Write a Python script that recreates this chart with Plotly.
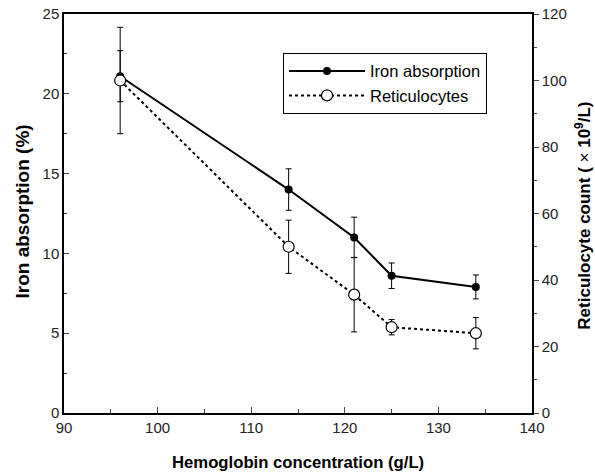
import plotly.graph_objects as go

hemoglobin = [96, 114, 121, 125, 134]
iron_absorption = [21.1, 14.0, 11.0, 8.6, 7.9]
iron_sd = [1.6, 1.3, 1.27, 0.8, 0.75]
reticulocytes = [100, 50, 35.6, 25.8, 24.0]
retic_sd = [16, 8, 11.2, 2.3, 4.7]

x_ticks = [90, 100, 110, 120, 130, 140]
y_ticks = [0, 5, 10, 15, 20, 25]
y2_ticks = [0, 20, 40, 60, 80, 100, 120]

x_title = "<b>Hemoglobin concentration (g/L)</b>"
y_title = "<b>Iron absorption (%)</b>"
y2_title = "<b>Reticulocyte count (</b> × <b>10<sup>9</sup>/L)</b>"

FONT = "Liberation Sans, Arial, Helvetica, sans-serif"
TICKCOLOR = "#222222"

fig = go.Figure()
fig.add_trace(go.Scatter(
    x=hemoglobin, y=reticulocytes, yaxis="y2", name="Reticulocytes",
    mode="lines+markers",
    line=dict(color="black", width=2, dash="dot"),
    marker=dict(symbol="circle", size=11, color="white", line=dict(color="black", width=1.2)),
    error_y=dict(type="data", array=retic_sd, visible=True, color="black", thickness=1, width=3),
))
fig.add_trace(go.Scatter(
    x=hemoglobin, y=iron_absorption, yaxis="y", name="Iron absorption",
    mode="lines+markers",
    line=dict(color="black", width=2),
    marker=dict(symbol="circle", size=8, color="black"),
    error_y=dict(type="data", array=iron_sd, visible=True, color="black", thickness=1, width=3),
))

fig.update_layout(
    width=595, height=474,
    margin=dict(l=64, r=63, t=14, b=61),
    paper_bgcolor="white", plot_bgcolor="white",
    font=dict(family=FONT, size=15, color=TICKCOLOR),
    showlegend=True,
    legend=dict(
        x=0.468, y=0.903, xanchor="left", yanchor="top",
        bordercolor="black", borderwidth=1, bgcolor="white",
        font=dict(size=16.5, color="black"), traceorder="reversed",
        tracegroupgap=0, itemwidth=76,
    ),
    xaxis=dict(
        range=[90, 140], tickvals=x_ticks, ticks="inside", ticklen=6,
        showline=True, linecolor="black", linewidth=1.5, mirror=True,
        showgrid=False, zeroline=False, automargin=False,
        minor=dict(dtick=5, tick0=90, ticks="inside", ticklen=4, showgrid=False),
        tickfont=dict(size=15, color=TICKCOLOR),
    ),
    yaxis=dict(
        range=[0, 25], tickvals=y_ticks, ticks="inside", ticklen=5,
        showline=True, linecolor="black", linewidth=1.5, mirror=True,
        showgrid=False, zeroline=False, automargin=False,
        minor=dict(dtick=2.5, tick0=0, ticks="inside", ticklen=3, showgrid=False),
        tickfont=dict(size=15, color=TICKCOLOR),
    ),
    yaxis2=dict(
        range=[0, 120], tickvals=y2_ticks, ticks="outside", ticklen=5,
        overlaying="y", side="right",
        showline=True, linecolor="black", linewidth=1.5,
        showgrid=False, zeroline=False, automargin=False,
        minor=dict(dtick=10, tick0=0, ticks="outside", ticklen=3, showgrid=False),
        tickfont=dict(size=15, color=TICKCOLOR),
    ),
    annotations=[
        dict(text=x_title, xref="paper", yref="paper", x=0.5, y=-0.123,
             xanchor="center", yanchor="middle", showarrow=False,
             font=dict(size=16.7, color="black")),
        dict(text=y_title, xref="paper", yref="paper", x=-0.0897, y=0.505,
             xanchor="center", yanchor="middle", showarrow=False, textangle=-90,
             font=dict(size=19, color="black")),
        dict(text=y2_title, xref="paper", yref="paper", x=1.1085, y=0.494,
             xanchor="center", yanchor="middle", showarrow=False, textangle=-90,
             font=dict(size=17, color="black")),
    ],
)

fig.write_html(
    "out.html",
    config={"displayModeBar": False},
    post_script="document.body.style.margin='0';document.body.style.padding='0';",
)
